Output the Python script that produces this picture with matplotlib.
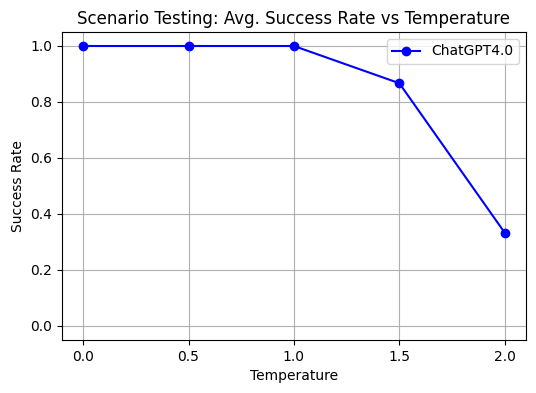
import matplotlib
matplotlib.use("Agg")
import matplotlib.pyplot as plt

# data
temperatures = [0.0, 0.5, 1.0, 1.5, 2.0]
success_rate = [1.0, 1.0, 1.0, 0.867, 0.333]

fig = plt.figure(figsize=(5.36, 3.93), dpi=100)
ax = fig.add_axes([0.1157, 0.1349, 0.8653, 0.7837])

ax.plot(temperatures, success_rate, marker='o', color='blue', label='ChatGPT4.0')
ax.set_title('Scenario Testing: Avg. Success Rate vs Temperature')
ax.set_xlabel('Temperature')
ax.set_ylabel('Success Rate')
ax.set_xticks(temperatures)
ax.set_ylim(-0.05, 1.05)
ax.grid(True)
ax.legend()

fig.savefig('out.png', dpi=100)
